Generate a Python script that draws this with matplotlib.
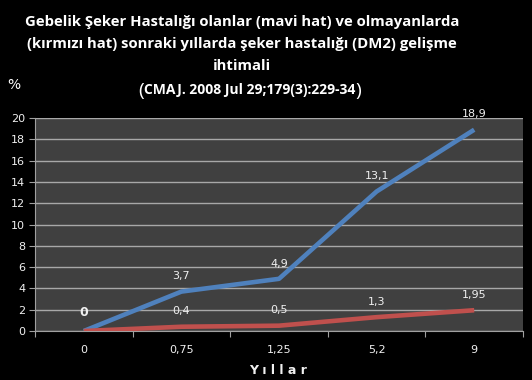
import matplotlib
matplotlib.use("Agg")
import matplotlib.pyplot as plt

# data
years = ["0", "0,75", "1,25", "5,2", "9"]
gdm = [0, 3.7, 4.9, 13.1, 18.9]
no_gdm = [0, 0.4, 0.5, 1.3, 1.95]
gdm_labels = ["0", "3,7", "4,9", "13,1", "18,9"]
no_gdm_labels = ["", "0,4", "0,5", "1,3", "1,95"]
yticks = list(range(0, 22, 2))

blue = "#4f81bd"
red = "#c0504d"
txt = "#f0f0f0"

fig = plt.figure(figsize=(5.32, 3.8), dpi=100, facecolor="black")
ax = fig.add_axes([35 / 532, 1 - 331 / 380, 488 / 532, 213 / 380])
ax.set_facecolor("#404040")

x = list(range(len(years)))
ax.plot(x, gdm, color=blue, lw=3.3, solid_capstyle="butt", zorder=3)
ax.plot(x, no_gdm, color=red, lw=3.3, solid_capstyle="butt", zorder=3)

for i, lab in enumerate(gdm_labels):
    if i == 0:
        ax.annotate(lab, (x[i], gdm[i]), xytext=(0, 13), textcoords="offset points",
                    ha="center", va="center", color=txt, fontsize=9, fontweight="bold")
    else:
        ax.annotate(lab, (x[i], gdm[i]), xytext=(0, 11), textcoords="offset points",
                    ha="center", va="center", color=txt, fontsize=8)
for i, lab in enumerate(no_gdm_labels):
    ax.annotate(lab, (x[i], no_gdm[i]), xytext=(0, 11), textcoords="offset points",
                ha="center", va="center", color=txt, fontsize=8)

ax.set_xlim(-0.5, 4.5)
ax.set_ylim(0, 20)
ax.set_yticks(yticks)
ax.set_xticks([i - 0.5 for i in range(len(years) + 1)])
ax.set_xticklabels([])
ax.set_xticks(x, minor=True)
ax.set_xticklabels(years, minor=True)
ax.tick_params(axis="x", which="minor", length=0, pad=10, colors=txt, labelsize=8)
ax.tick_params(axis="x", which="major", length=4, color="#a0a0a0")
ax.tick_params(axis="y", length=4, color="#a0a0a0", colors=txt, labelsize=8, pad=3)
ax.yaxis.grid(True, color="#a8a8a8", lw=1)
ax.set_axisbelow(True)
for s in ["top", "right"]:
    ax.spines[s].set_visible(False)
for s in ["left", "bottom"]:
    ax.spines[s].set_color("#a0a0a0")

ax.set_xlabel("Y ı l l a r", color=txt, fontsize=9, fontweight="bold")
ax.xaxis.set_label_coords((278 - 35) / 488, -(370 - 331) / 213)
ax.xaxis.label.set_va("center")

title = ("Gebelik Şeker Hastalığı olanlar (mavi hat) ve olmayanlarda\n"
         "(kırmızı hat) sonraki yıllarda şeker hastalığı (DM2) gelişme\n"
         "ihtimali")
fig.text(242 / 532, 1 - 44 / 380, title, ha="center", va="center", color="white",
         fontsize=10.7, fontweight="bold", family="Open Sans", linespacing=1.72)
mid = fig.text(250 / 532, 1 - 90 / 380, "CMAJ. 2008 Jul 29;179(3):229-34", ha="center",
               va="center", color="white", fontsize=10, fontweight="bold", family="Open Sans")
fig.canvas.draw()
ax.annotate("(", xy=(0, 0.45), xycoords=mid, ha="right", va="center", color="white",
            fontsize=14, family="Open Sans", annotation_clip=False)
ax.annotate(")", xy=(1, 0.45), xycoords=mid, ha="left", va="center", color="white",
            fontsize=14, family="Open Sans", annotation_clip=False)
fig.text(7 / 532, 1 - 85 / 380, "%", ha="left", va="center", color="white", fontsize=10)

fig.savefig("out.png", dpi=100, facecolor="black")
